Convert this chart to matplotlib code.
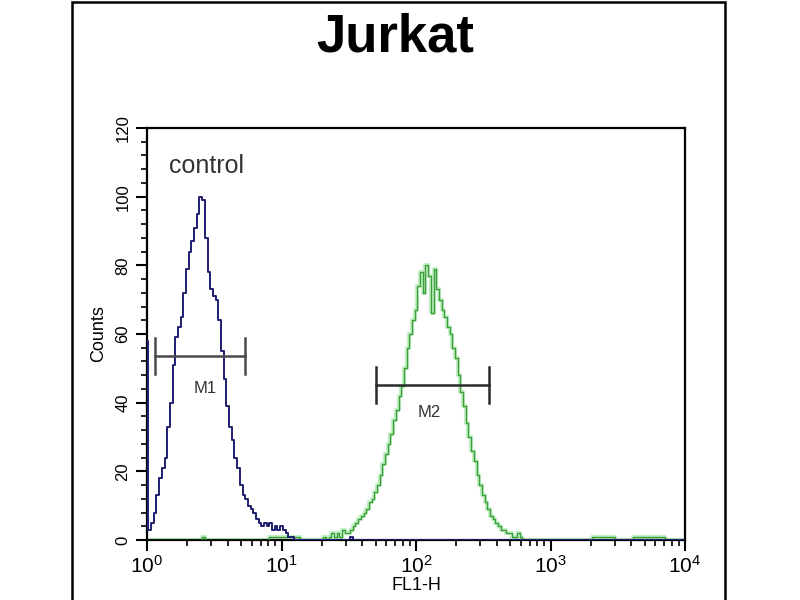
import numpy as np
import matplotlib
matplotlib.use("Agg")
import matplotlib.pyplot as plt
from matplotlib.patches import Rectangle
from matplotlib.ticker import MultipleLocator, LogLocator, NullFormatter, FixedLocator

plt.rcParams['font.family'] = ['Liberation Sans', 'DejaVu Sans']
plt.rcParams['mathtext.fontset'] = 'custom'
plt.rcParams['mathtext.rm'] = 'Liberation Sans'
plt.rcParams['mathtext.it'] = 'Liberation Sans'
plt.rcParams['mathtext.bf'] = 'Liberation Sans:bold'

# ---- data (log10 of FL1-H bin centres, counts) ----
blue_log_start = 0.0
blue_log_step = 0.02
blue_counts = [58, 3, 5, 8, 13, 18, 21, 24, 33, 40,
               51, 59, 62, 65, 72, 79, 84, 87, 91, 95,
               100, 99, 88, 78, 73, 71, 70, 64, 55, 47,
               39, 33, 29, 24, 21, 16, 13, 12, 10, 9,
               8, 6, 5, 4, 5, 4, 5, 3, 4, 3,
               4, 3, 2, 1, 1, 0]
blue_tail_log = [1.12, 1.5, 1.52, 1.54, 4.0]
blue_tail_counts = [0, 0, 1, 0, 0]

green_log_start = 1.30
green_log_step = 0.02
green_counts = [0, 1, 0, 1, 2, 1, 2, 1, 3, 2,
                2, 3, 4, 5, 6, 7, 8, 9, 11, 12,
                14, 16, 19, 22, 25, 28, 31, 35, 38, 42,
                45, 50, 56, 60, 64, 67, 74, 78, 72, 80,
                77, 66, 79, 73, 70, 67, 65, 62, 60, 56,
                53, 48, 43, 39, 34, 30, 26, 23, 19, 16,
                13, 11, 9, 7, 6, 5, 4, 3, 3, 2,
                2, 1, 1, 2, 1, 0]
green_head_log = [0.0, 0.4, 0.42, 0.44, 0.9, 0.92, 1.28]
green_head_counts = [0, 0, 1, 0, 0, 1, 0]
green_tail_log = [2.84, 3.3, 3.32, 3.6, 3.62, 4.0]
green_tail_counts = [0, 0, 1, 0, 1, 0]

marker_names = ["M1", "M2"]
marker_lo = [1.15, 50.0]
marker_hi = [5.35, 349.0]
marker_y = [53.6, 45.1]
marker_label_x = [2.7, 125.0]
marker_label_y = [44.0, 37.0]

y_ticks = [0, 20, 40, 60, 80, 100, 120]
x_ticks = [1, 10, 100, 1000, 10000]
x_tick_labels = [r"$10^0$", r"$10^1$", r"$10^2$", r"$10^3$", r"$10^4$"]

# ---- figure ----
fig = plt.figure(figsize=(8, 6), dpi=100)
fig.patch.set_facecolor("white")
fig.patches.append(Rectangle((72 / 800, -0.05), (725 - 72) / 800, 1.05 - 2 / 600,
                             transform=fig.transFigure, fill=False,
                             edgecolor="black", linewidth=1.8))

ax = fig.add_axes([147 / 800, 1 - 540 / 600, (685 - 147) / 800, (540 - 128) / 600])

bx = 10 ** (blue_log_start + blue_log_step * np.arange(len(blue_counts)))
gx = 10 ** (green_log_start + green_log_step * np.arange(len(green_counts)))

gx_all = np.concatenate([10 ** np.array(green_head_log), gx, 10 ** np.array(green_tail_log)])
gy_all = np.concatenate([green_head_counts, green_counts, green_tail_counts])
bx_all = np.concatenate([bx, 10 ** np.array(blue_tail_log)])
by_all = np.concatenate([blue_counts, blue_tail_counts])

ax.plot(gx_all, gy_all, drawstyle="steps-mid", color="#9be39b", lw=3.0, alpha=0.6, zorder=2)
ax.plot(gx_all, gy_all, drawstyle="steps-mid", color="#3a9e3a", lw=1.0, zorder=3)
ax.plot(bx_all, by_all, drawstyle="steps-mid", color="#1e1e70", lw=1.4, zorder=4)

for name, lo, hi, yv, lx, ly in zip(marker_names, marker_lo, marker_hi, marker_y,
                                    marker_label_x, marker_label_y):
    col = "#4a4a4a" if name == "M1" else "#2a2a2a"
    ax.plot([lo, hi], [yv, yv], color=col, lw=1.8, zorder=5)
    ax.plot([lo, lo], [yv - 5.2, yv + 5.2], color=col, lw=1.8, zorder=5)
    ax.plot([hi, hi], [yv - 5.2, yv + 5.2], color=col, lw=1.8, zorder=5)
    ax.text(lx, ly, name, ha="center", va="center", fontsize=12, color="#333333")

ax.text(2.75, 109, "control", ha="center", va="center", fontsize=18, color="#333333")

ax.set_xscale("log")
ax.set_xlim(1, 10000)
ax.set_ylim(0, 120)

ax.yaxis.set_major_locator(FixedLocator(y_ticks))
ax.yaxis.set_minor_locator(MultipleLocator(4))
ax.set_yticklabels([str(v) for v in y_ticks], rotation=90, va="center", fontsize=12)

ax.xaxis.set_major_locator(FixedLocator(x_ticks))
ax.xaxis.set_minor_locator(LogLocator(base=10, subs=np.arange(2, 10)))
ax.xaxis.set_minor_formatter(NullFormatter())
ax.set_xticklabels(x_tick_labels, fontsize=15)

ax.tick_params(axis="both", which="major", direction="out", length=8, width=1.5)
ax.tick_params(axis="both", which="minor", direction="out", length=4, width=1.2)
ax.tick_params(axis="x", pad=3)
ax.tick_params(axis="y", pad=4)

for s in ax.spines.values():
    s.set_linewidth(1.6)

ax.set_xlabel("FL1-H", fontsize=13, labelpad=0)
ax.set_ylabel("Counts", fontsize=13, labelpad=6)

fig.text(395 / 800, 1 - 37 / 600, "Jurkat", ha="center", va="center",
         fontsize=38, fontweight="bold")

fig.savefig("out.png", dpi=100)
